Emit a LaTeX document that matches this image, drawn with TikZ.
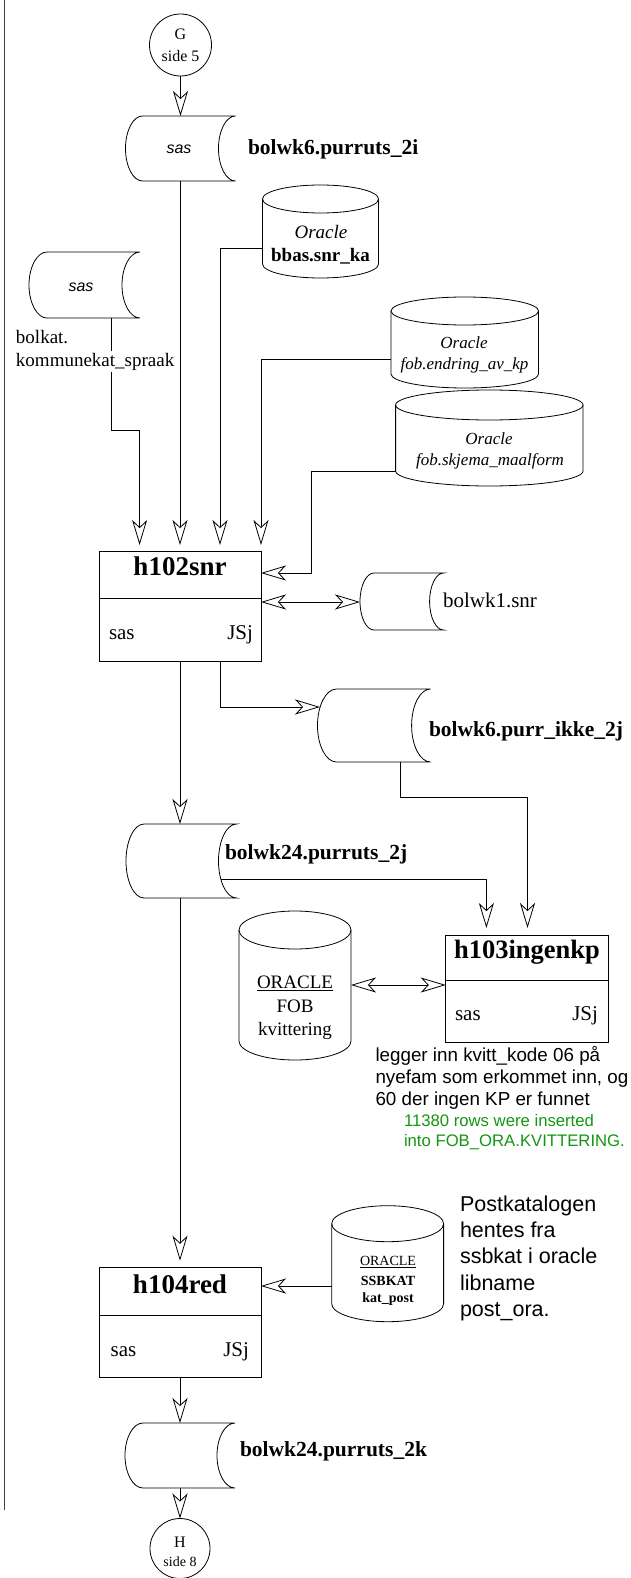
\documentclass[tikz,border=0pt]{standalone}
\usepackage{fontspec}
\setmainfont{Liberation Serif}
\setsansfont{Liberation Sans}
\usetikzlibrary{arrows.meta,calc}
\definecolor{sasgreen}{RGB}{20,150,20}
\newcommand\drumshape[5]{%
  \pgfmathsetmacro\drumry{(#4-#2)/2}%
  \draw[shp,fill=white] (#1+#5,#2) arc[start angle=90,end angle=270,x radius=#5pt,y radius=\drumry pt] -- (#3,#4) arc[start angle=270,end angle=90,x radius=#5pt,y radius=\drumry pt] -- cycle;}
\newcommand\dbshape[5]{%
  \pgfmathsetmacro\dbrx{(#3-#1)/2}%
  \draw[shp,fill=white] (#1,#2+#5) -- (#1,#4-#5) arc[start angle=180,end angle=360,x radius=\dbrx pt,y radius=#5pt] -- (#3,#2+#5) arc[start angle=0,end angle=180,x radius=\dbrx pt,y radius=#5pt] -- cycle;
  \draw[shp] (#1,#2+#5) arc[start angle=180,end angle=360,x radius=\dbrx pt,y radius=#5pt];}
\tikzset{
  shp/.style={draw=black,line width=0.8pt},
  conn/.style={draw=black,line width=0.8pt},
  tip/.tip={Stealth[open,length=25pt,width=15pt,inset=7pt]},
  arr/.style={conn,-tip},
  darr/.style={conn,tip-tip},
  area/.style={inner sep=0pt,outer sep=0pt,draw=none},
  boxnode/.style={draw=black,line width=0.8pt,inner sep=0pt,outer sep=0pt},
  txt/.style={inner sep=0pt,outer sep=0pt},
  title/.style={txt,anchor=base,font=\fontsize{27}{30}\selectfont\bfseries},
  btxt/.style={txt,font=\fontsize{21}{24}\selectfont},
  lbl/.style={txt,anchor=base west,font=\fontsize{21.5}{24}\selectfont\bfseries},
  sastxt/.style={txt,anchor=base,font=\fontsize{16}{18}\selectfont\sffamily\itshape},
  note/.style={txt,anchor=base west,font=\fontsize{18.8}{22}\selectfont\sffamily},
  gnote/.style={txt,anchor=base west,text=sasgreen,font=\fontsize{16.7}{19}\selectfont\sffamily},
  pnote/.style={txt,anchor=base west,font=\fontsize{21.5}{24}\selectfont\sffamily},
}
\begin{document}
\begin{tikzpicture}[x=1pt,y=-1pt]
\useasboundingbox (0,0) rectangle (631,1578);
\fill[white] (0,0) rectangle (631,1578);
% page margin line
\draw[draw=black!75,line width=0.8pt] (4,0) -- (4,1510);

% connector G
\node[boxnode,circle,minimum size=62pt] (G) at (180.5,45) {};
\node[txt,anchor=base,font=\fontsize{16}{18}\selectfont] (Gt) at (180.5,39.3) {G};
\node[txt,anchor=base,font=\fontsize{16}{18}\selectfont] (Gs) at (180.5,61.7) {side 5};

% drum d1
\drumshape{125.5}{116}{235.5}{181}{17}
\node[area,minimum width=110pt,minimum height=65pt] (d1) at (180.5,148.5) {};
\node[sastxt] (d1t) at (179,153.3) {sas};
\node[lbl] (d1l) at (248,154.3) {bolwk6.purruts\_2i};

% bbas cylinder
\dbshape{262.5}{185}{378.5}{278}{14}
\node[area,minimum width=116pt,minimum height=93pt] (bbas) at (320.5,231.5) {};
\node[txt,anchor=base,font=\fontsize{19}{22}\selectfont\itshape] (bbas1) at (321,238.3) {Oracle};
\node[txt,anchor=base,font=\fontsize{19}{22}\selectfont\bfseries] (bbas2) at (320.5,261.7) {bbas.snr\_ka};

% drum d2 (bolkat)
\drumshape{29}{252}{140}{318}{18}
\node[area,minimum width=111pt,minimum height=66pt] (d2) at (84.5,285) {};
\node[sastxt] (d2t) at (81,291.7) {sas};
\node[txt,anchor=base west,font=\fontsize{19}{22}\selectfont] (d2l1) at (16,343.3) {bolkat.};

% fob.endring cylinder
\dbshape{391}{297}{538.5}{388}{14}
\node[area,minimum width=147.5pt,minimum height=91pt] (endr) at (464.75,342.5) {};
\node[txt,anchor=base,font=\fontsize{17}{20}\selectfont\itshape] (endr1) at (464,348.3) {Oracle};
\node[txt,anchor=base,font=\fontsize{17}{20}\selectfont\itshape] (endr2) at (464.5,369) {fob.endring\_av\_kp};

% fob.skjema cylinder
\dbshape{395.6}{390}{583}{486}{15}
\node[area,minimum width=187.4pt,minimum height=96pt] (skj) at (489.3,438) {};
\node[txt,anchor=base,font=\fontsize{17}{20}\selectfont\itshape] (skj1) at (489,444.3) {Oracle};
\node[txt,anchor=base,font=\fontsize{17}{20}\selectfont\itshape] (skj2) at (490,465) {fob.skjema\_maalform};

% h102snr box
\node[boxnode,minimum width=162pt,minimum height=110pt] (h102) at (180,606) {};
\draw[shp] (h102.west |- 0,598) -- (h102.east |- 0,598);
\node[title] (h102t) at (180,575) {h102snr};
\node[btxt,anchor=base west] (h102s) at (109,639.3) {sas};
\node[btxt,anchor=base east] (h102j) at (253,639.3) {JSj};

% bolwk1.snr drum
\drumshape{360}{573}{443.6}{630}{14}
\node[area,minimum width=83.6pt,minimum height=57pt] (wk1) at (401.8,601.5) {};
\node[txt,anchor=base west,font=\fontsize{21}{24}\selectfont] (wk1l) at (443,607.3) {bolwk1.snr};

% bolwk6.purr_ikke_2j drum
\drumshape{317.5}{689}{430.6}{762}{19}
\node[area,minimum width=113.1pt,minimum height=73pt] (ikke) at (374,725.5) {};
\node[lbl] (ikkel) at (429,736.7) {bolwk6.purr\_ikke\_2j};

% bolwk24.purruts_2j drum
\drumshape{126}{824}{236.5}{898}{18}
\node[area,minimum width=110.5pt,minimum height=74pt] (d24j) at (181.25,861) {};
\node[lbl] (d24jl) at (225,859) {bolwk24.purruts\_2j};

% h103ingenkp box
\node[boxnode,minimum width=162.8pt,minimum height=107.3pt] (h103) at (527.1,988.65) {};
\draw[shp] (h103.west |- 0,980.7) -- (h103.east |- 0,980.7);
\node[title,font=\fontsize{26.5}{30}\selectfont\bfseries] (h103t) at (527,958) {h103ingenkp};
\node[btxt,anchor=base west] (h103s) at (455,1020) {sas};
\node[btxt,anchor=base east] (h103j) at (598,1020) {JSj};

% ORACLE FOB kvittering cylinder
\dbshape{239}{911}{351}{1060}{19}
\node[area,minimum width=112pt,minimum height=149pt] (kvitt) at (295,985.5) {};
\node[txt,anchor=base,font=\fontsize{19}{22}\selectfont] (kv1) at (295,988.3) {\underline{ORACLE}};
\node[txt,anchor=base,font=\fontsize{19}{22}\selectfont] (kv2) at (295,1012.3) {FOB};
\node[txt,anchor=base,font=\fontsize{19}{22}\selectfont] (kv3) at (295,1035.5) {kvittering};

% notes
\node[note] (n1) at (375.5,1061.7) {legger inn kvitt\_kode 06 på};
\node[note] (n2) at (375.5,1083.5) {nyefam som erkommet inn, og};
\node[note] (n3) at (375.5,1105.5) {60 der ingen KP er funnet};
\node[gnote] (g1) at (404,1126.7) {11380 rows were inserted};
\node[gnote] (g2) at (404,1146.7) {into FOB\_ORA.KVITTERING.};

% SSBKAT cylinder
\dbshape{331.7}{1205.7}{443.6}{1321.7}{18}
\node[area,minimum width=111.9pt,minimum height=116pt] (ssb) at (387.65,1263.7) {};
\node[txt,anchor=base,font=\fontsize{14}{16}\selectfont] (ssb1) at (388,1265.7) {\underline{ORACLE}};
\node[txt,anchor=base,font=\fontsize{14}{16}\selectfont\bfseries] (ssb2) at (388,1285) {SSBKAT};
\node[txt,anchor=base,font=\fontsize{14}{16}\selectfont\bfseries] (ssb3) at (388,1302) {kat\_post};

\node[pnote] (p1) at (460,1211.7) {Postkatalogen};
\node[pnote] (p2) at (460,1237.7) {hentes fra};
\node[pnote] (p3) at (460,1263.3) {ssbkat i oracle};
\node[pnote] (p4) at (460,1290) {libname};
\node[pnote] (p5) at (460,1316) {post\_ora.};

% h104red box
\node[boxnode,minimum width=162pt,minimum height=109.6pt] (h104) at (180,1322.5) {};
\draw[shp] (h104.west |- 0,1315) -- (h104.east |- 0,1315);
\node[title] (h104t) at (180,1293.3) {h104red};
\node[btxt,anchor=base west] (h104s) at (110.7,1356.5) {sas};
\node[btxt,anchor=base east] (h104j) at (249,1356.5) {JSj};

% bolwk24.purruts_2k drum
\drumshape{125}{1423}{235}{1488}{18}
\node[area,minimum width=110pt,minimum height=65pt] (d2k) at (180,1455.5) {};
\node[lbl] (d2kl) at (240,1456.7) {bolwk24.purruts\_2k};

% connector H
\node[boxnode,circle,minimum size=60pt] (H) at (180,1548.5) {};
\node[txt,anchor=base,font=\fontsize{16}{18}\selectfont] (Ht) at (180,1547.3) {H};
\node[txt,anchor=base,font=\fontsize{14}{16}\selectfont] (Hs) at (180,1566.7) {side 8};

% ---- connectors ----
\coordinate (mx) at (180,0);
\draw[arr] (G.south) -- (G.south |- d1.north);
\draw[arr,shorten >=6pt] (mx |- d1.south) -- (mx |- h102.north);

% bolkat
\coordinate (k1) at (111,430);
\coordinate (k2) at (139.6,430);
\draw[conn] (k1 |- d2.south) -- (k1) -- (k2);
\draw[arr,shorten >=6pt] (k2) -- (k2 |- h102.north);
\node[txt,anchor=base west,inner ysep=2pt,fill=white,font=\fontsize{19}{22}\selectfont] (d2l2) at (16,366) {kommunekat\_spraak};

% bbas
\coordinate (b1) at (220,248);
\draw[arr,shorten >=6pt] (b1 -| bbas.west) -- (b1) -- (b1 |- h102.north);
% endring
\coordinate (e1) at (261,359);
\draw[arr,shorten >=6pt] (e1 -| endr.west) -- (e1) -- (e1 |- h102.north);
% skjema
\coordinate (s1) at (311,471);
\coordinate (s2) at (311,573);
\draw[arr] (s1 -| skj.west) -- (s1) -- (s2) -- (s2 -| h102.east);
% h102 <-> bolwk1
\coordinate (w1) at (300,602);
\draw[darr] (w1 -| h102.east) -- (w1 -| wk1.west);
% h102 -> purr_ikke
\coordinate (q0) at (220,707);
\coordinate (q0e) at (320,707);
\draw[arr] (q0 |- h102.south) -- (q0) -- (q0e);
% h102 -> bolwk24 2j
\draw[arr] (mx |- h102.south) -- (mx |- d24j.north);
% purr_ikke -> h103
\coordinate (q1) at (400,797);
\coordinate (q2) at (527.5,797);
\draw[arr,shorten >=7pt] (q1 |- ikke.south) -- (q1) -- (q2) -- (q2 |- h103.north);
% bolwk24 2j -> h103
\coordinate (r0) at (221,879);
\coordinate (r1) at (486.4,879);
\draw[arr,shorten >=7pt] (r0) -- (r1) -- (r1 |- h103.north);
% kvittering <-> h103
\coordinate (k3) at (400,985);
\draw[darr] (k3 -| kvitt.east) -- (k3 -| h103.west);
% bolwk24 2j -> h104
\draw[arr,shorten >=7pt] (mx |- d24j.south) -- (mx |- h104.north);
% ssbkat -> h104
\coordinate (t1) at (300,1286);
\draw[arr] (t1 -| ssb.west) -- (t1 -| h104.east);
% h104 -> 2k
\draw[arr] (mx |- h104.south) -- (mx |- d2k.north);
% 2k -> H
\draw[arr] (mx |- d2k.south) -- (H.north);
\end{tikzpicture}
\end{document}
